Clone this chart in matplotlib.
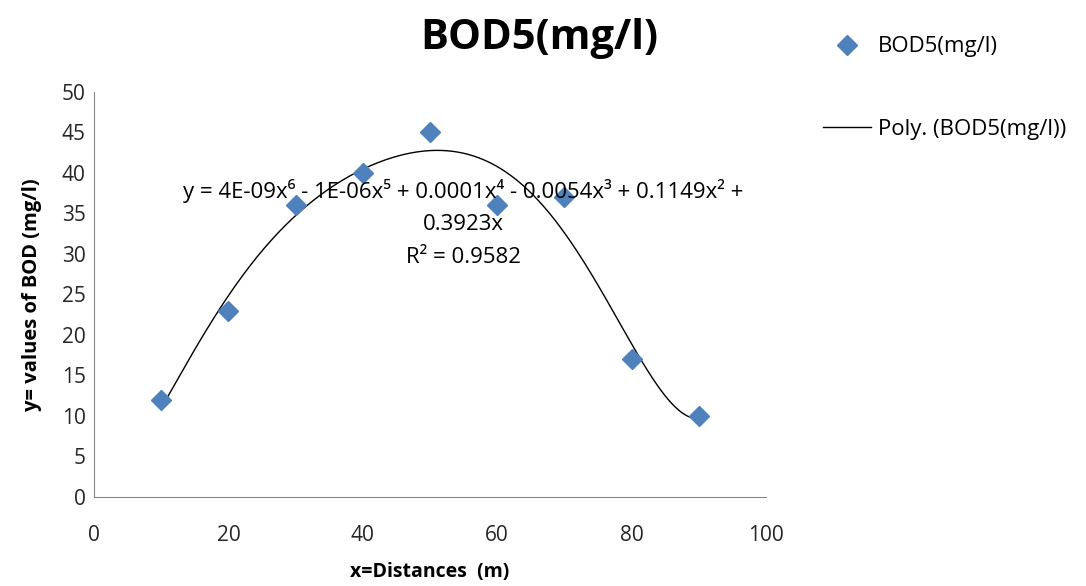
import numpy as np
import matplotlib.pyplot as plt

# data
distance = [10, 20, 30, 40, 50, 60, 70, 80, 90]
bod5 = [12, 23, 36, 40, 45, 36, 37, 17, 10]

plt.rcParams['font.family'] = ['Open Sans', 'DejaVu Sans']

# 6th order polynomial trendline (intercept fixed at 0, as in the equation)
x = np.array(distance, dtype=float)
y = np.array(bod5, dtype=float)
A = np.vstack([x ** k for k in range(1, 7)]).T
coef, *_ = np.linalg.lstsq(A, y, rcond=None)
xs = np.linspace(10, 90, 300)
ys = np.vstack([xs ** k for k in range(1, 7)]).T @ coef

fig = plt.figure(figsize=(10.86, 5.86), dpi=100)
ax = fig.add_axes([0.0866, 0.152, 0.6187, 0.691])

ax.plot(distance, bod5, 'D', color='#4F81BD', markersize=10, label='BOD5(mg/l)', zorder=3)
ax.plot(xs, ys, color='black', linewidth=1, label='Poly. (BOD5(mg/l))', zorder=2)

ax.set_xlim(0, 100)
ax.set_ylim(0, 50)
ax.set_xticks(range(0, 101, 20))
ax.set_yticks(range(0, 51, 5))
ax.tick_params(length=0, labelsize=15, colors='#262626')
ax.tick_params(axis='x', pad=20)
ax.tick_params(axis='y', pad=6)
for s in ['top', 'right']:
    ax.spines[s].set_visible(False)
for s in ['left', 'bottom']:
    ax.spines[s].set_color('#868686')

ax.set_xlabel('x=Distances  (m)', fontsize=14, fontweight='bold', labelpad=12)
ax.set_ylabel('y= values of BOD (mg/l)', fontsize=14.5, fontweight='bold', labelpad=14)
fig.text(0.497, 0.935, 'BOD5(mg/l)', fontsize=30, fontweight='bold', ha='center', va='center')

ax.text(55, 39.3,
        'y = 4E-09x⁶ - 1E-06x⁵ + 0.0001x⁴ - 0.0054x³ + 0.1149x² +\n'
        '0.3923x\nR² = 0.9582',
        fontsize=16, ha='center', va='top', linespacing=1.72)

fig.legend(loc='upper left', bbox_to_anchor=(0.739, 0.972), frameon=False,
           fontsize=16, labelspacing=2.75, handlelength=2.2, handletextpad=0.3)

fig.savefig('out.png', dpi=100)
